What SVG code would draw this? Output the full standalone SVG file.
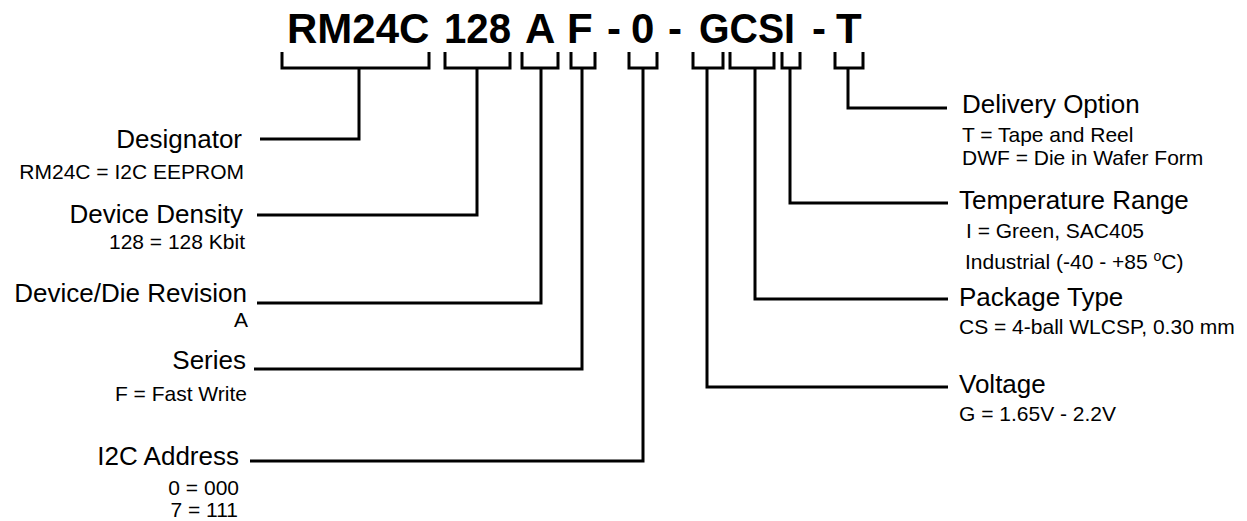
<svg xmlns="http://www.w3.org/2000/svg" width="1247" height="521" viewBox="0 0 1247 521">
<style>
text{font-family:"Liberation Sans",Arial,sans-serif;fill:#000}
.t{font-size:42px;font-weight:bold}
.h{font-size:26px}
.s{font-size:21px}
.l{text-anchor:end}
.b,.c{fill:none;stroke:#000;stroke-width:3;stroke-linejoin:miter}
</style>
<rect width="1247" height="521" fill="#fff"/>
<g id="title">
<text class="t" x="287" y="43">RM24C</text>
<text class="t" x="444" y="43" textLength="67" lengthAdjust="spacingAndGlyphs">128</text>
<text class="t" x="525" y="43">A</text>
<text class="t" x="567" y="43">F</text>
<text class="t" x="607" y="43">-</text>
<text class="t" x="631" y="43">0</text>
<text class="t" x="668" y="43">-</text>
<text class="t" x="699" y="43" textLength="96" lengthAdjust="spacingAndGlyphs">GCSI</text>
<text class="t" x="812" y="43">-</text>
<text class="t" x="836" y="43">T</text>
</g>
<g id="brackets">
<path class="b" d="M282,52V68H429V52"/>
<path class="b" d="M445,52V68H510V52"/>
<path class="b" d="M522,52V68H558V52"/>
<path class="b" d="M571,52V68H595V52"/>
<path class="b" d="M629,52V68H657V52"/>
<path class="b" d="M693,52V68H723V52"/>
<path class="b" d="M730,52V68H774V52"/>
<path class="b" d="M782,52V68H800V52"/>
<path class="b" d="M835,52V68H863V52"/>
</g>
<g id="connectors">
<path class="c" d="M359,68V139H260"/>
<path class="c" d="M477,68V215H257"/>
<path class="c" d="M541,68V303H257"/>
<path class="c" d="M582,68V369H254"/>
<path class="c" d="M643,68V461H250"/>
<path class="c" d="M707,68V387H948"/>
<path class="c" d="M755,68V299H948"/>
<path class="c" d="M790,68V203H948"/>
<path class="c" d="M848,68V108H947"/>
</g>
<g id="designator">
<text class="h l" x="242" y="148">Designator</text>
<text class="s l" x="244" y="179">RM24C = I2C EEPROM</text>
</g>
<g id="density">
<text class="h l" x="243" y="223">Device Density</text>
<text class="s l" x="245" y="249">128 = 128 Kbit</text>
</g>
<g id="revision">
<text class="h l" x="247" y="302">Device/Die Revision</text>
<text class="s l" x="248" y="327">A</text>
</g>
<g id="series">
<text class="h l" x="246" y="369">Series</text>
<text class="s l" x="247" y="401">F = Fast Write</text>
</g>
<g id="address">
<text class="h l" x="239" y="465">I2C Address</text>
<text class="s l" x="239" y="495">0 = 000</text>
<text class="s l" x="238" y="517">7 = 111</text>
</g>
<g id="delivery">
<text class="h" x="962" y="113">Delivery Option</text>
<text class="s" x="962" y="142">T = Tape and Reel</text>
<text class="s" x="962" y="165">DWF = Die in Wafer Form</text>
</g>
<g id="temperature">
<text class="h" x="959" y="209">Temperature Range</text>
<text class="s" x="966" y="238">I = Green, SAC405</text>
<text class="s" x="965" y="269">Industrial (-40 - +85 <tspan font-size="14" dy="-8">o</tspan><tspan dy="8">C)</tspan></text>
</g>
<g id="package">
<text class="h" x="959" y="306">Package Type</text>
<text class="s" x="959" y="334">CS = 4-ball WLCSP, 0.30 mm</text>
</g>
<g id="voltage">
<text class="h" x="959" y="393">Voltage</text>
<text class="s" x="959" y="421">G = 1.65V - 2.2V</text>
</g>
</svg>
